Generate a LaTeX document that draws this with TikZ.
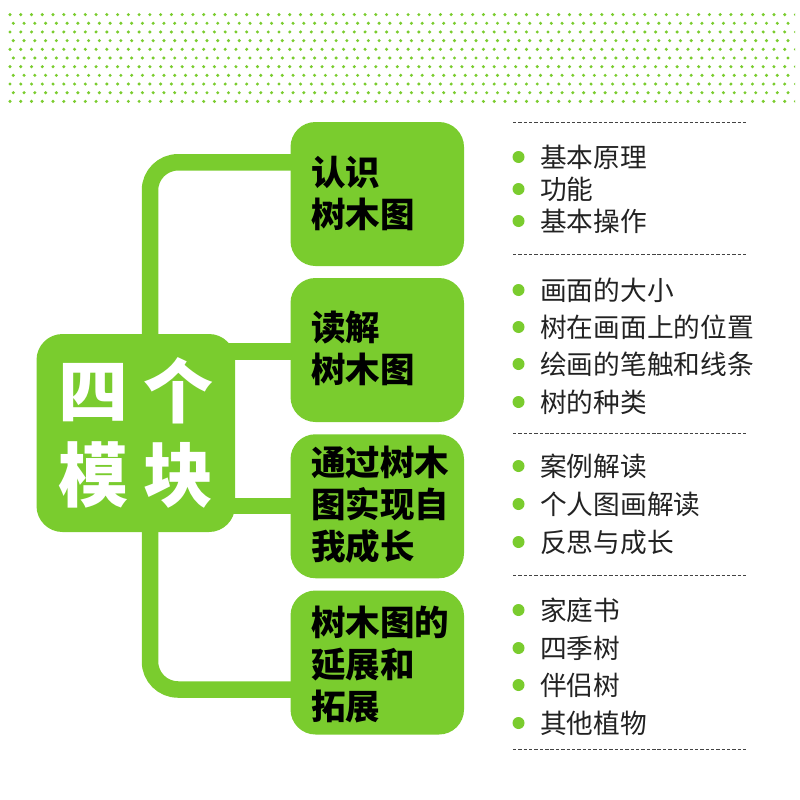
\documentclass[tikz,border=0pt]{standalone}
\usepackage{fontspec}
\newfontfamily\cjk{Noto Sans CJK SC}
\usetikzlibrary{backgrounds}
\definecolor{leaf}{HTML}{7ACC2E}
\definecolor{ink}{HTML}{222222}
\newcommand\nudged[2]{\raisebox{#1}[\height][\depth]{\parbox[c]{132.5pt}{\raggedright\baselineskip=42pt #2}}}
\tikzset{
  x=1pt,y=-1pt,
  hubbox/.style={fill=leaf,rounded corners=26pt,minimum width=198.5pt,minimum height=198pt,inner sep=0pt,align=center,text=white,font=\cjk\bfseries\fontsize{70}{84}\selectfont},
  topic/.style={fill=leaf,rounded corners=25pt,minimum width=173.5pt,minimum height=144pt,inner xsep=20.5pt,inner ysep=0pt,text=black,font=\cjk\bfseries\fontsize{34.5}{42}\selectfont},
  link/.style={draw=leaf,line width=16.5pt,rounded corners=28pt},
  item/.style={anchor=west,inner sep=0pt,text=ink,text height=23.5pt,text depth=3.2pt,font=\cjk\fontsize{26.7}{26.7}\selectfont},
  bullet/.style={circle,fill=leaf,inner sep=0pt,minimum size=12pt},
  rulerline/.style={draw=ink!85,line width=0.9pt,dash pattern=on 3.4pt off 1.95pt},
  speck/.style={fill=leaf}
}
\begin{document}
\begin{tikzpicture}
\useasboundingbox (0,0) rectangle (800,800);
% dotted band
\begin{scope}
\clip (0,0) rectangle (795,110);
\foreach \r in {0,...,10}{
  \pgfmathsetmacro{\yy}{14.6+8.68*\r}
  \pgfmathsetmacro{\xs}{isodd(\r)?13.3:10}
  \foreach \i in {0,...,73}{
    \pgfmathsetmacro{\xx}{\xs+10.76*\i}
    \ifodd\r \ifnum\i=73 \else \fill[speck] (\xx,\yy) circle[radius=1.7pt];\fi
    \else \fill[speck] (\xx,\yy) circle[radius=1.7pt];\fi
  }
}
\end{scope}
% nodes
\node[hubbox] (hub) at (135.75,433) {四\hspace{15pt}个\\模\hspace{15pt}块};
\node[topic] (b1) at (377.25,194) {\nudged{0pt}{认识\\树木图}};
\node[topic] (b2) at (377.25,350) {\nudged{2pt}{读解\\树木图}};
\node[topic] (b3) at (377.25,506.25) {\nudged{2pt}{通过树木\\图实现自\\我成长}};
\node[topic] (b4) at (377.25,662.5) {\nudged{-2pt}{树木图的\\延展和\\拓展}};
\coordinate (spine) at (150,0);
\coordinate (ya) at (0,162.3);
\coordinate (yb) at (0,351.5);
\coordinate (yc) at (0,506);
\coordinate (yd) at (0,689.5);
% connectors
\begin{scope}[on background layer]
\draw[link] (hub.center -| spine) |- (b1.center |- ya);
\draw[link] (hub.center |- yb) -- (b2.center |- yb);
\draw[link] (hub.center |- yc) -- (b3.center |- yc);
\draw[link] (hub.center -| spine) |- (b4.center |- yd);
\end{scope}
% lists
\foreach \n/\y/\t in {
  a/157/基本原理, b/189/功能, c/221/基本操作,
  d/290/画面的大小, e/327/树在画面上的位置, f/364/绘画的笔触和线条, g/402/树的种类,
  h/466/案例解读, i/504/个人图画解读, j/542/反思与成长,
  k/610/家庭书, l/648/四季树, m/685/伴侣树, n/723/其他植物}{
  \node[bullet] (dot\n) at (518.5,\y) {};
  \node[item] (txt\n) at (540,\y) {\t};
}
\foreach \y in {122,254,433,575,749}{
  \draw[rulerline] (513,\y) -- (746,\y);
}
\end{tikzpicture}
\end{document}
